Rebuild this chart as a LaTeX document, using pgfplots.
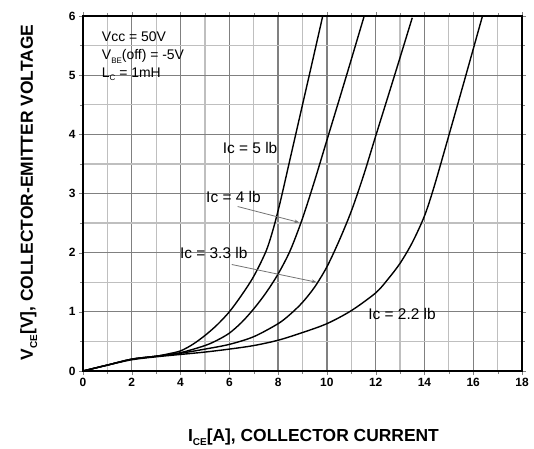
\documentclass[border=0pt]{standalone}
\usepackage{fontspec}
\setmainfont{Liberation Sans}
\usepackage{pgfplots}
\pgfplotsset{compat=1.18}
\usetikzlibrary{arrows.meta}
\newcommand\subA[1]{\raisebox{-0.45ex}{\fontsize{10}{10}\selectfont #1}}
\newcommand\subB[1]{\raisebox{-0.45ex}{\fontsize{8}{8}\selectfont #1}}
\begin{document}
\begin{tikzpicture}
\begin{axis}[
 at={(0,0)}, anchor=south west,
 scale only axis, width=439bp, height=355bp,
 xmin=0, xmax=18, ymin=0, ymax=6,
 xtick={0,2,...,18}, ytick={0,1,...,6},
 minor xtick={1,3,...,17}, minor ytick={0.5,1.5,...,5.5},
 grid=both,
 major grid style={draw=gray, line width=1.3bp},
 minor grid style={draw=lightgray, line width=1.2bp},
 axis line style={line width=1.3bp},
 tick align=outside,
 major tick length=4bp, minor tick length=3bp,
 /pgf/number format/assume math mode=true,
 ticklabel style={font=\bfseries\fontsize{12}{12}\selectfont},
]
% Ic = 5 Ib
\addplot[black, line width=1.4bp, smooth] coordinates {
 (0,0) (1,0.1) (2,0.2) (3,0.25) (3.5,0.29) (4,0.34) (4.5,0.45) (5,0.6) (5.5,0.78)
 (6,1.0) (6.5,1.28) (7,1.6) (7.5,2.02) (7.8,2.4) (8.1,2.88) (8.5,3.6) (9.0,4.5)
 (9.4,5.22) (9.83,6.0)};
% Ic = 4 Ib
\addplot[black, line width=1.4bp, smooth] coordinates {
 (0,0) (1,0.1) (2,0.2) (3,0.25) (4,0.31) (5,0.43) (5.5,0.52) (6,0.64) (6.5,0.82)
 (7,1.05) (7.5,1.32) (8,1.64) (8.5,2.04) (9,2.58) (9.5,3.22) (10,3.9) (10.75,4.92)
 (11.53,6.0)};
% Ic = 3.3 Ib
\addplot[black, line width=1.4bp, smooth] coordinates {
 (0,0) (1,0.1) (2,0.2) (3,0.25) (4,0.3) (5,0.37) (6,0.45) (7,0.58) (8,0.8)
 (8.5,0.96) (9,1.16) (9.5,1.42) (10,1.76) (10.5,2.2) (11,2.7) (11.5,3.3) (12,3.97)
 (12.8,5.03) (13.5,5.97)};
% Ic = 2.2 Ib
\addplot[black, line width=1.4bp, smooth] coordinates {
 (0,0) (1,0.1) (2,0.19) (3,0.24) (4,0.28) (5,0.32) (6,0.37) (7,0.43) (8,0.52)
 (9,0.65) (10,0.8) (11,1.02) (12,1.32) (12.5,1.55) (13,1.82) (13.5,2.17) (14,2.62)
 (14.4,3.12) (15,3.98) (15.7,5.0) (16.38,6.0)};

\node[anchor=base west, font=\fontsize{14}{16}\selectfont, inner sep=0pt] at (axis cs:0.77,5.565) {Vcc = 50V};
\node[anchor=base west, font=\fontsize{14}{16}\selectfont, inner sep=0pt] at (axis cs:0.77,5.26) {V\subB{BE}(off) = -5V};
\node[anchor=base west, font=\fontsize{14}{16}\selectfont, inner sep=0pt] at (axis cs:0.77,4.96) {L\subB{C} = 1mH};

\node[anchor=base, font=\fontsize{15.5}{18}\selectfont, inner sep=0pt] at (axis cs:6.85,3.67) {Ic = 5 lb};
\node[anchor=base, font=\fontsize{15.5}{18}\selectfont, inner sep=0pt] at (axis cs:6.17,2.84) {Ic = 4 lb};
\node[anchor=base, font=\fontsize{15.5}{18}\selectfont, inner sep=0pt] at (axis cs:5.36,1.90) {Ic = 3.3 lb};
\node[anchor=base, font=\fontsize{15.5}{18}\selectfont, inner sep=0pt] at (axis cs:13.08,0.87) {Ic = 2.2 lb};

\draw[-{Stealth[length=5bp,width=3.5bp]}, black!55, line width=0.8bp] (axis cs:6.34,2.78) -- (axis cs:8.87,2.51);
\draw[-{Stealth[length=5bp,width=3.5bp]}, black!55, line width=0.8bp] (axis cs:6.1,1.80) -- (axis cs:9.58,1.50);
\end{axis}
\node[anchor=base, font=\bfseries\fontsize{17.5}{20}\selectfont, inner sep=0pt] at (230.5bp,-70bp) {I\subA{CE}[A], COLLECTOR CURRENT};
\node[rotate=90, anchor=base, font=\bfseries\fontsize{17.5}{20}\selectfont, inner sep=0pt] at (-50bp,178.5bp) {V\subA{CE}[V], COLLECTOR-EMITTER VOLTAGE};
\path[use as bounding box] (-83bp,-78bp) rectangle (451bp,371bp);
\end{tikzpicture}
\end{document}
